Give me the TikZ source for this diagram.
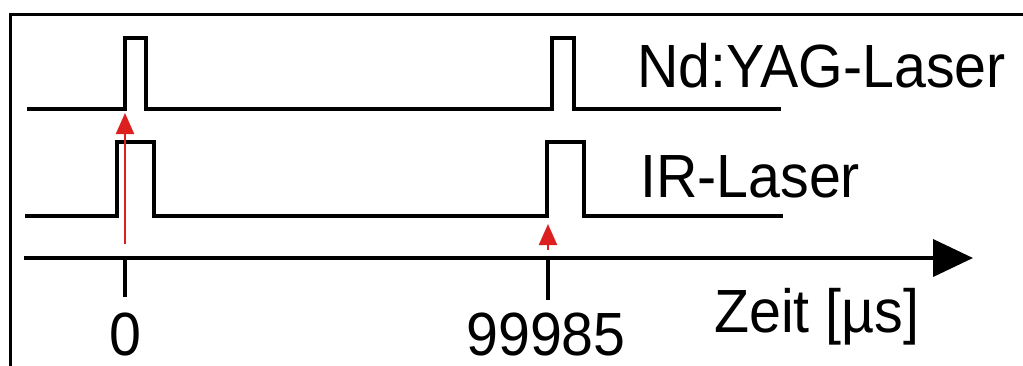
\documentclass[tikz,border=0pt]{standalone}
\usepackage{fontspec}
\usepackage{graphicx}
\setmainfont{Liberation Sans}
\usetikzlibrary{arrows.meta}
\definecolor{trig}{RGB}{220,32,32}
\tikzset{
  signal/.style={line width=4pt, line join=miter, line cap=butt},
  axisline/.style={line width=4pt, -{Triangle[length=40pt,width=37pt]}},
  tick/.style={line width=4pt},
  trigger/.style={draw=trig, line width=2.2pt, -{Triangle[length=21pt,width=18pt]}},
  lbl/.style={inner sep=0pt, font=\fontsize{61}{61}\selectfont},
}
\newcommand{\narrow}[1]{\scalebox{0.94}[1]{#1}}
\begin{document}
\begin{tikzpicture}[x=1pt,y=-1pt]
\useasboundingbox (0,0) rectangle (1023,365);
\fill[white] (0,0) rectangle (1023,365);
% frame
\draw[line width=3pt] (10,366) -- (10,14) -- (1024,14);

% Nd:YAG pulses
\draw[signal] (27,109) -- (125,109) -- (125,38) -- (146,38) -- (146,109)
  -- (552,109) -- (552,38) -- (574,38) -- (574,109) -- (781,109);
% IR pulses
\draw[signal] (25,216) -- (117,216) -- (117,142) -- (154,142) -- (154,216)
  -- (547,216) -- (547,142) -- (584,142) -- (584,216) -- (783,216);

% time axis
\coordinate (a0) at (24,258);
\coordinate (a1) at (973,258);
\draw[axisline] (a0) -- (a1);
\coordinate (t0) at (125,258);
\coordinate (t0b) at (125,297);
\coordinate (t1) at (548,258);
\coordinate (t1b) at (548,300);
\draw[tick] (t0) -- (t0b);
\draw[tick] (t1) -- (t1b);

% trigger arrows
\coordinate (r0a) at (125,244);
\coordinate (r0b) at (125,113);
\coordinate (r1a) at (548,250);
\coordinate (r1b) at (548,224);
\draw[trigger] (r0a) -- (r0b);
\draw[trigger] (r1a) -- (r1b);

% labels
\node[lbl, anchor=base west] (nd) at (637,87) {\narrow{Nd:YAG-Laser}};
\node[lbl, anchor=base west] (ir) at (640,197) {\narrow{IR-Laser}};
\node[lbl, anchor=base west] (zeit) at (714,332) {\narrow{Zeit [µs]}};
\node[lbl, anchor=base] (l0) at (125,355) {\narrow{0}};
\node[lbl, anchor=base] (l1) at (546,355) {\narrow{99985}};
\end{tikzpicture}
\end{document}
